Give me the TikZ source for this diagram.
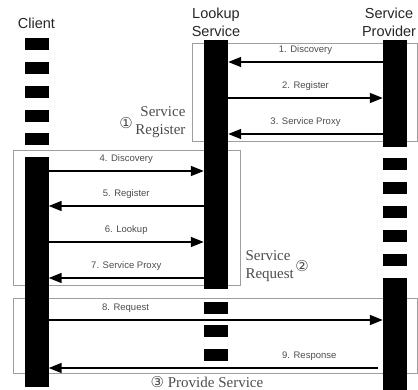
\documentclass[tikz,border=0pt]{standalone}
\usepackage{fontspec}
\setmainfont{Liberation Serif}
\setsansfont{Liberation Sans}
\newfontfamily\circfont{DejaVu Sans}
\usetikzlibrary{arrows.meta}
\definecolor{framegray}{gray}{0.62}
\definecolor{textgray}{gray}{0.3}

\begin{document}
\begin{tikzpicture}[x=1pt,y=-1pt,
  bar/.style={fill=black,inner sep=0pt,minimum width=24pt,anchor=north},
  blip/.style={bar,minimum height=12pt},
  msg/.style={-{Triangle[length=13pt,width=10pt]},line width=1.6pt},
  lbl/.style={font=\sffamily\fontsize{9.5}{11}\selectfont,text=textgray,above=3pt},
  head/.style={font=\sffamily\fontsize{14.5}{18}\selectfont,text=black!85,align=center},
  phase/.style={font=\fontsize{15}{18}\selectfont,text=textgray},
  circ/.style={font=\circfont\fontsize{15}{15}\selectfont,text=textgray,inner sep=0pt},
  frame/.style={draw=framegray,line width=0.8pt}]

\useasboundingbox (0,0) rectangle (418,390);

\coordinate (M1) at (0,62);
\coordinate (M2) at (0,98);
\coordinate (M3) at (0,134);
\coordinate (M4) at (0,171);
\coordinate (M5) at (0,206);
\coordinate (M6) at (0,242);
\coordinate (M7) at (0,278);
\coordinate (M8) at (0,320);
\coordinate (M9) at (0,368);

% phase frames
\draw[frame] (192,43) rectangle (417,141);
\draw[frame] (13,150) rectangle (240,285);
\draw[frame] (13,298) rectangle (417,373);

% client
\node[head] (C0) at (36.5,23) {Client};
\node[blip] (C1) at (36.5,38) {};
\node[blip] (C2) at (36.5,62) {};
\node[blip] (C3) at (36.5,86) {};
\node[blip] (C4) at (36.5,110) {};
\node[blip] (C5) at (36.5,133) {};
\node[bar,minimum height=230pt] (C6) at (36.5,157) {};

% lookup service
\node[head] (L0) at (216,22) {Lookup\\Service};
\node[bar,minimum height=249pt] (L1) at (216,40) {};
\node[blip] (L2) at (216,302) {};
\node[blip] (L3) at (216,325) {};
\node[blip] (L4) at (216,349) {};

% service provider
\node[head] (P0) at (389,22) {Service\\Provider};
\node[bar,minimum height=107pt] (P1) at (395,40) {};
\node[blip] (P2) at (395,158) {};
\node[blip] (P3) at (395,182) {};
\node[blip] (P4) at (395,206) {};
\node[blip] (P5) at (395,230) {};
\node[blip] (P6) at (395,254) {};
\node[bar,minimum height=112pt] (P7) at (395,278) {};

% messages
\draw[msg] (P1.west |- M1) -- (L1.east |- M1) node[lbl,midway] {1. Discovery};
\draw[msg] (L1.east |- M2) -- (P1.west |- M2) node[lbl,midway] {2. Register};
\draw[msg] (P1.west |- M3) -- (L1.east |- M3) node[lbl,midway] {3. Service Proxy};
\draw[msg] (C6.east |- M4) -- (L1.west |- M4) node[lbl,midway] {4. Discovery};
\draw[msg] (L1.west |- M5) -- (C6.east |- M5) node[lbl,midway] {5. Register};
\draw[msg] (C6.east |- M6) -- (L1.west |- M6) node[lbl,midway] {6. Lookup};
\draw[msg] (L1.west |- M7) -- (C6.east |- M7) node[lbl,midway] {7. Service Proxy};
\draw[msg] (C6.east |- M8) -- (P7.west |- M8) node[lbl,pos=0.23] {8. Request};
\draw[msg,shorten <=5pt] (P7.west |- M9) -- (C6.east |- M9) node[lbl,pos=0.22] {9. Response};

% phase labels
\node[phase,align=right,anchor=east] (R1) at (189,122) {Service\\Register};
\node[circ] (R0) at (126,123) {①};
\node[phase,align=left,anchor=west] (Q1) at (242,266) {Service\\Request};
\node[circ] (Q0) at (302,266) {②};
\node[phase] (S1) at (207,382) {{\circfont\fontsize{15}{15}\selectfont ③} Provide Service};

\end{tikzpicture}
\end{document}
